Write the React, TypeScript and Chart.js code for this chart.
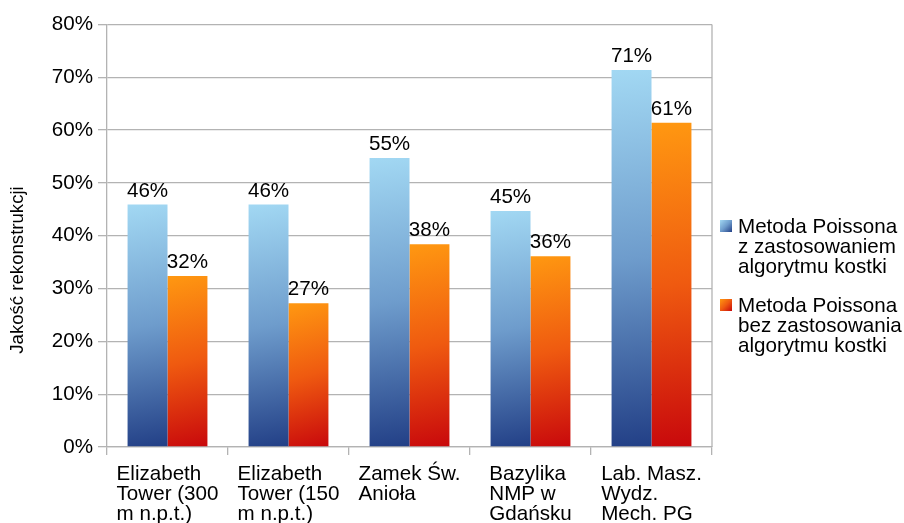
import React, { useEffect, useRef } from "react";
import { Chart, registerables } from "chart.js";

Chart.register(...registerables);

const categories: string[][] = [
  ["Elizabeth", "Tower (300", "m n.p.t.)"],
  ["Elizabeth", "Tower (150", "m n.p.t.)"],
  ["Zamek Św.", "Anioła"],
  ["Bazylika", "NMP w", "Gdańsku"],
  ["Lab. Masz.", "Wydz.", "Mech. PG"],
];
const withCube: number[] = [45.9, 45.9, 54.7, 44.7, 71.4];
const withoutCube: number[] = [32.4, 27.2, 38.4, 36.1, 61.4];
const seriesNames: string[][] = [
  ["Metoda Poissona", "z zastosowaniem", "algorytmu kostki"],
  ["Metoda Poissona", "bez zastosowania", "algorytmu kostki"],
];
const yTitle = "Jakość rekonstrukcji";
const yTicks: number[] = [0, 10, 20, 30, 40, 50, 60, 70, 80];

const FONT = '"Liberation Sans", Arial, sans-serif';
const FS = 20.6;
const GRID = "#b3b3b3";
const CAT_PCT = 0.66;
const gradStops = [
  ["#a2d8f3", "#6e9ccc", "#223f86"],
  ["#ff9811", "#ef5a10", "#c8080c"],
];

function barGradient(c: any, dsIndex: number) {
  const chart = c.chart;
  const xs = chart.scales?.x;
  const ys = chart.scales?.y;
  const stops = gradStops[dsIndex];
  if (!xs || !ys || c.dataIndex === undefined || c.raw === undefined) return stops[1];
  const catW = xs.width / categories.length;
  const half = (catW * CAT_PCT) / 2;
  const cx = xs.getPixelForValue(c.dataIndex);
  const left = dsIndex === 0 ? cx - half : cx;
  const right = left + half;
  const top = ys.getPixelForValue(c.raw);
  const bottom = ys.getPixelForValue(0);
  const vals = [left, right, top, bottom];
  if (!vals.every((v) => Number.isFinite(v)) || half <= 0 || bottom <= top) return stops[1];
  const g = chart.ctx.createLinearGradient(left, top, right, bottom);
  g.addColorStop(0, stops[0]);
  g.addColorStop(0.5, stops[1]);
  g.addColorStop(1, stops[2]);
  return g;
}

const customDraw = {
  id: "customDraw",
  afterDatasetsDraw(chart: any) {
    const ctx = chart.ctx;
    const area = chart.chartArea;
    ctx.save();
    // right border
    ctx.strokeStyle = GRID;
    ctx.lineWidth = 1.3;
    ctx.beginPath();
    ctx.moveTo(area.right, area.top);
    ctx.lineTo(area.right, area.bottom);
    ctx.stroke();

    // value labels
    ctx.fillStyle = "#000";
    ctx.font = `${FS}px ${FONT}`;
    ctx.textAlign = "center";
    ctx.textBaseline = "alphabetic";
    chart.data.datasets.forEach((ds: any, di: number) => {
      const meta = chart.getDatasetMeta(di);
      meta.data.forEach((el: any, i: number) => {
        const v = ds.data[i];
        ctx.fillText(`${Math.round(v)}%`, el.x, el.y - 8);
      });
    });

    // category labels (left-aligned lines in a centered block)
    const xs = chart.scales.x;
    ctx.textAlign = "left";
    categories.forEach((lines, i) => {
      const cx = xs.getPixelForValue(i);
      const maxW = Math.max(...lines.map((l) => ctx.measureText(l).width));
      const left = cx - maxW / 2;
      lines.forEach((l, k) => {
        ctx.fillText(l, left, area.bottom + 33 + k * 20);
      });
    });

    // y-axis title
    ctx.save();
    ctx.font = `18.6px ${FONT}`;
    ctx.textAlign = "center";
    ctx.textBaseline = "middle";
    ctx.translate(18, 270);
    ctx.rotate(-Math.PI / 2);
    ctx.fillText(yTitle, 0, 0);
    ctx.restore();

    // legend
    ctx.font = `${FS}px ${FONT}`;
    ctx.textAlign = "left";
    ctx.textBaseline = "alphabetic";
    const legendTops = [220, 299];
    seriesNames.forEach((lines, si) => {
      const top = legendTops[si];
      const stops = gradStops[si];
      const g = ctx.createLinearGradient(720, top, 732, top + 12);
      g.addColorStop(0, stops[0]);
      g.addColorStop(0.5, stops[1]);
      g.addColorStop(1, stops[2]);
      ctx.fillStyle = g;
      ctx.fillRect(720, top, 12, 12);
      ctx.fillStyle = "#000";
      lines.forEach((l, k) => {
        ctx.fillText(l, 738, top + 13 + k * 20);
      });
    });
    ctx.restore();
  },
};

export default function App() {
  const ref = useRef<HTMLCanvasElement | null>(null);

  useEffect(() => {
    document.body.style.margin = "0";
    const canvas = ref.current;
    if (!canvas) return;
    const chart = new Chart(canvas, {
      type: "bar",
      data: {
        labels: categories.map((c) => c.join(" ")),
        datasets: [
          {
            label: seriesNames[0].join(" "),
            data: withCube,
            backgroundColor: (c: any) => barGradient(c, 0),
            borderWidth: 0,
            categoryPercentage: CAT_PCT,
            barPercentage: 1,
          },
          {
            label: seriesNames[1].join(" "),
            data: withoutCube,
            backgroundColor: (c: any) => barGradient(c, 1),
            borderWidth: 0,
            categoryPercentage: CAT_PCT,
            barPercentage: 1,
          },
        ],
      },
      options: {
        responsive: false,
        animation: false,
        devicePixelRatio: 1,
        layout: { padding: { top: 24.5, right: 192, left: 0, bottom: 0 } },
        plugins: {
          legend: { display: false },
          tooltip: { enabled: false },
        },
        scales: {
          x: {
            offset: true,
            grid: {
              offset: true,
              drawOnChartArea: false,
              drawTicks: true,
              tickLength: 8,
              color: GRID,
              lineWidth: 1.3,
            },
            border: { display: true, color: GRID, width: 1.3 },
            ticks: { display: false },
            afterFit: (s: any) => {
              s.height = 76;
            },
          },
          y: {
            min: 0,
            max: 80,
            afterBuildTicks: (s: any) => {
              s.ticks = yTicks.map((v) => ({ value: v }));
            },
            grid: {
              color: GRID,
              lineWidth: 1.3,
              tickLength: 9,
              drawTicks: true,
            },
            border: { display: true, color: GRID, width: 1.3 },
            ticks: {
              padding: 5,
              color: "#000",
              font: { family: FONT, size: FS },
              callback: (v: any) => `${v}%`,
            },
            afterFit: (s: any) => {
              s.width = 107;
            },
          },
        },
      },
      plugins: [customDraw],
    });
    return () => chart.destroy();
  }, []);

  return <canvas ref={ref} width={904} height={523} style={{ display: "block" }} />;
}
